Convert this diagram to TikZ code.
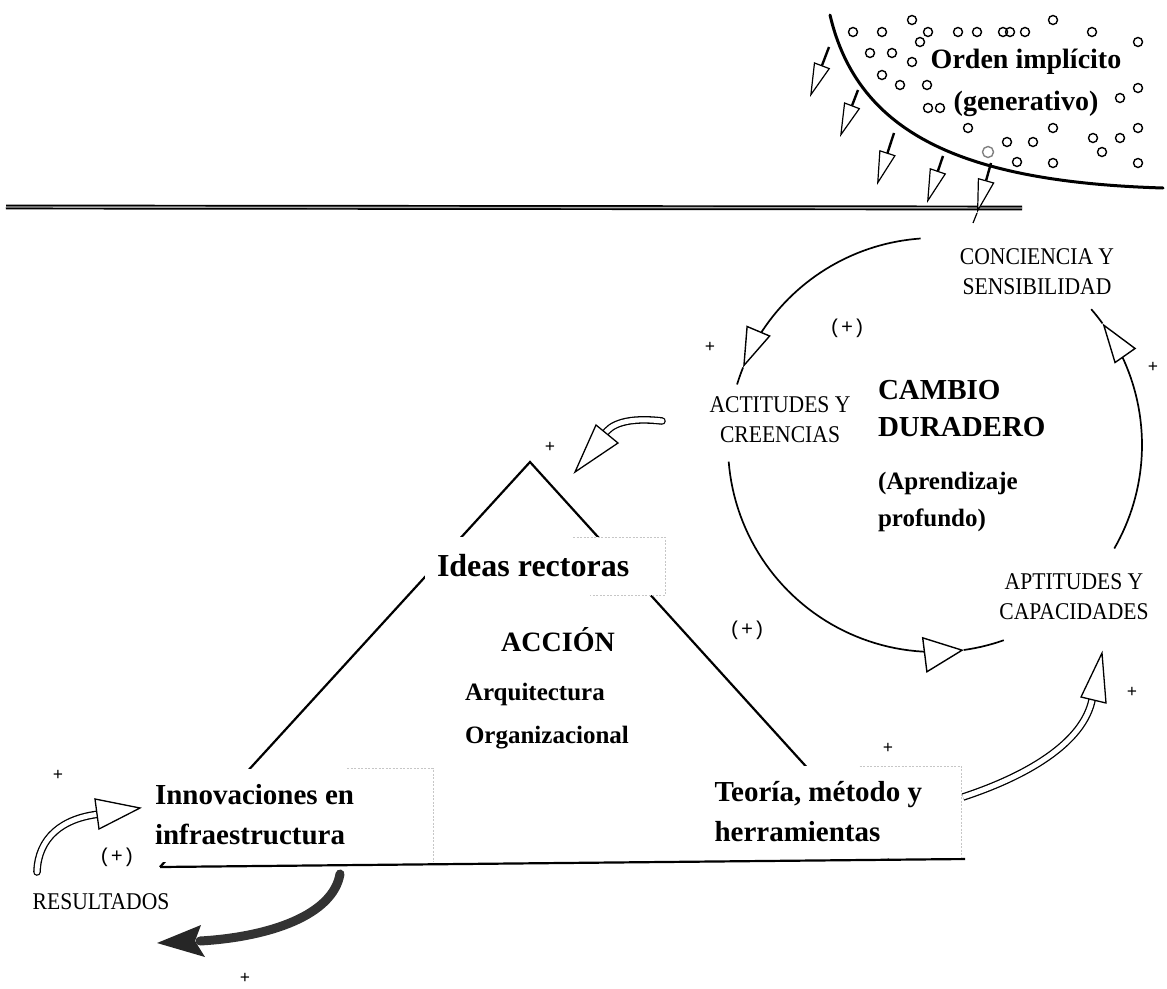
\documentclass[tikz,border=0pt]{standalone}
\usepackage{fontspec}
\setmainfont{Liberation Serif}
\newfontfamily\capsfont[FakeStretch=0.9]{Liberation Serif}
\newfontfamily\signfont{Liberation Mono}
\usetikzlibrary{arrows.meta}

\begin{document}
\begin{tikzpicture}[x=1pt,y=-1pt,
  every node/.style={inner sep=0pt, outer sep=0pt},
  caps/.style={font=\capsfont\fontsize{24}{30}\selectfont, align=center},
  boxtext/.style={font=\bfseries\fontsize{29}{40}\selectfont, fill=white, align=flush left},
  plus/.style={font=\bfseries\fontsize{18}{18}\selectfont},
  loopsign/.style={font=\signfont\fontsize{20}{20}\selectfont},
  cyc/.style={line width=1.7pt},
  cychead/.style={-{Triangle[length=40pt,width=26pt,fill=white,line width=1.4pt]}},
  smallarr/.style={line width=2.4pt,-{Triangle[length=34pt,width=17pt,fill=white,line width=1.2pt]}},
  hollowshaft/.style={line width=1.3pt, double=white, double distance=5pt, line cap=round},
  hollowhead/.style={line width=1.3pt, fill=white, line join=miter},
  tri/.style={line width=2.2pt},
  boxedge/.style={draw=gray!45, line width=0.8pt, dash pattern=on 2pt off 1.5pt},
  dot/.style={line width=1.4pt}
]
\useasboundingbox (0,0) rectangle (1167,988);

% ---------- implicate order ----------
\draw[line width=3pt, line cap=round] (830,15) .. controls (858,135) and (965,182) .. (1163,188);
\foreach \px/\py in {853/32, 882/32, 912/20, 928/32, 958/32, 977/32, 1003/32, 1010/32,
    1025/32, 1053/20, 1092/32, 920/42, 1138/42, 870/53, 892/53, 912/62, 882/75,
    900/85, 927/85, 928/108, 940/108, 1120/98, 1138/88, 968/128, 1007/142,
    1033/142, 1053/128, 1093/138, 1102/152, 1120/138, 1138/128, 1017/162,
    1053/163, 1138/163}
  \draw[dot] (\px,\py) circle[radius=4.5pt];
\draw[dot, gray] (988,152) circle[radius=5.5pt];
\node[font=\bfseries\fontsize{28}{42}\selectfont, align=center] (orden) at (1026,83)
  {Orden implícito\\(generativo)};

% horizon line
\coordinate (hl) at (6,207);
\coordinate (hr) at (1022,208);
\draw[line width=1.7pt, double=gray!65, double distance=1.4pt] (hl) -- (hr);

% arrows from the implicate order down to the horizon
\coordinate (s1) at (829,47);  \coordinate (t1) at (810,97);
\coordinate (s2) at (858,90);  \coordinate (t2) at (840,137);
\coordinate (s3) at (894,133); \coordinate (t3) at (877,185);
\coordinate (s4) at (943,156); \coordinate (t4) at (927,203);
\coordinate (s5) at (991,163); \coordinate (t5) at (977,213);
\coordinate (u5) at (973,223);
\foreach \i in {1,...,5} \draw[smallarr] (s\i) -- (t\i);
\draw[line width=1.2pt] (t5) -- (u5);

% ---------- cycle: lasting change ----------
\coordinate (cyc) at (935,445);
\draw[cyc, cychead] plot[domain=266:202, samples=40, variable=\t] ({935+207*cos(\t)},{445+207*sin(\t)});
\draw[cyc] plot[domain=202:197, samples=5, variable=\t] ({935+207*cos(\t)},{445+207*sin(\t)});
\draw[cyc, -{Triangle[length=40pt,width=36pt,fill=white,line width=1.4pt]}]
  plot[domain=175.4:82, samples=50, variable=\t] ({935+207*cos(\t)},{445+207*sin(\t)});
\draw[cyc] plot[domain=82:70.6, samples=8, variable=\t] ({935+207*cos(\t)},{445+207*sin(\t)});
\draw[cyc, cychead] plot[domain=30:-36, samples=40, variable=\t] ({935+207*cos(\t)},{445+207*sin(\t)});
\draw[cyc] plot[domain=-36:-41, samples=5, variable=\t] ({935+207*cos(\t)},{445+207*sin(\t)});

\node[caps] (concien) at (1037,272) {CONCIENCIA Y\\SENSIBILIDAD};
\node[caps] (actit) at (780,420) {ACTITUDES Y\\CREENCIAS};
\node[caps] (aptit) at (1074,597) {APTITUDES Y\\CAPACIDADES};
\node[font=\bfseries\fontsize{29}{37}\selectfont, align=flush left, anchor=west] (cambio) at (878,409)
  {CAMBIO\\DURADERO};
\node[font=\bfseries\fontsize{25}{37}\selectfont, align=flush left, anchor=west] (aprend) at (878,502)
  {(Aprendizaje\\profundo)};

% ---------- triangle: action ----------
\coordinate (apex) at (530,462);
\coordinate (lc) at (160,867);
\coordinate (rc) at (889,858);
\coordinate (be) at (965,859);
\draw[tri] (lc) -- (apex) -- (rc);
\draw[tri] (lc) -- (be);

\node[font=\bfseries\fontsize{32}{32}\selectfont, fill=white, align=flush left,
  text width=216pt, inner xsep=12pt, minimum height=58pt] (ideas) at (545,566) {Ideas rectoras};
\node[font=\bfseries\fontsize{28}{28}\selectfont] (accion) at (558,640) {ACCIÓN};
\node[font=\bfseries\fontsize{25}{43}\selectfont, align=flush left, anchor=west] (arq) at (465,716)
  {Arquitectura\\Organizacional};
\node[boxtext, minimum height=93pt, text width=268pt, inner xsep=10pt] (innov) at (289,815)
  {Innovaciones en\\infraestructura};
\node[boxtext, minimum height=92pt, text width=237pt, inner xsep=10pt] (teoria) at (833,812)
  {Teoría, método y\\herramientas};

\draw[boxedge] ([xshift=-92pt]ideas.north east) -- (ideas.north east) -- (ideas.south east)
  -- ([xshift=-75pt]ideas.south east);
\draw[boxedge] ([xshift=-86pt]innov.north east) -- (innov.north east) -- (innov.south east);
\draw[boxedge] ([xshift=-102pt]teoria.north east) -- (teoria.north east) -- (teoria.south east);

\node[caps] (result) at (101,902) {RESULTADOS};

% ---------- curved connectors ----------
% attitudes -> guiding ideas
\coordinate (aT) at (662,421); \coordinate (aH) at (604,435);
\draw[hollowshaft] (aT) .. controls (628,417) and (610,424) .. (aH);
\draw[hollowhead] (596,425) -- (575,472) -- (618,443) -- cycle;
% theory -> aptitudes
\coordinate (bT) at (963,797); \coordinate (bH) at (1093,694);
\draw[hollowshaft, line cap=butt] (bT) .. controls (1030,775) and (1088,740) .. (bH);
\draw[hollowhead] (1081,697) -- (1102,653) -- (1106,703) -- cycle;
% results -> innovations
\coordinate (cT) at (37,872); \coordinate (cH) at (100,814);
\draw[hollowshaft] (cT) .. controls (38,838) and (62,818) .. (cH);
\draw[hollowhead] (95,799) -- (140,808) -- (99,829) -- cycle;
% innovations -> results (outflow)
\coordinate (dT) at (340,874); \coordinate (dH) at (200,941);
\draw[line width=9pt, line cap=round, black!80] (dT) .. controls (333,915) and (270,937) .. (dH);
\fill[black!85] (201,925) -- (157,943) -- (205,957) -- (195,941) -- cycle;

% ---------- signs ----------
\node[plus] (p1) at (710,347) {+};
\node[loopsign] (l1) at (847,328) {(+)};
\node[plus] (p2) at (1153,367) {+};
\node[plus] (p3) at (550,447) {+};
\node[loopsign] (l2) at (747,630) {(+)};
\node[plus] (p4) at (888,748) {+};
\node[plus] (p5) at (1132,692) {+};
\node[plus] (p6) at (58,775) {+};
\node[loopsign] (l3) at (117,857) {(+)};
\node[plus] (p7) at (245,978) {+};
\end{tikzpicture}
\end{document}
